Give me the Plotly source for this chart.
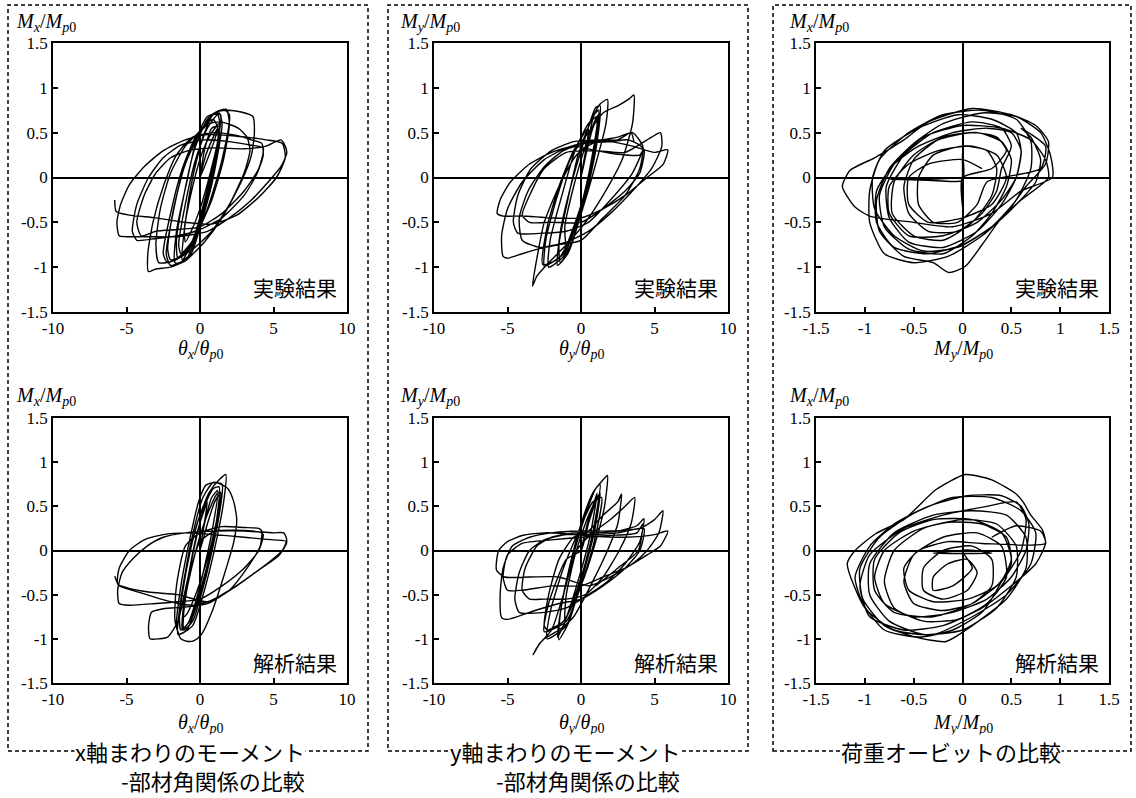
import plotly.graph_objects as go

W, H = 1136, 798

# ---------------- data ----------------
THETA_TICKS = [-10, -5, 0, 5, 10]
THETA_TICKTEXT = ["-10", "-5", "0", "5", "10"]
M_TICKS = [-1.5, -1, -0.5, 0, 0.5, 1, 1.5]
M_TICKTEXT = ["-1.5", "-1", "-0.5", "0", "0.5", "1", "1.5"]

# panel 1: experiment, theta_x - Mx
EXP_THX = [
    (0, 0), (0.3, 0.3), (0.8, 0.55), (1.3, 0.57), (0.9, 0.0), (0.1, -0.5), (-0.6, -0.85), (-1.2, -0.92),
    (-1.0, -0.5), (-0.5, 0.0), (0.2, 0.45), (0.9, 0.7), (1.4, 0.7), (1.1, 0.3), (0.4, -0.2), (-0.5, -0.7),
    (-1.3, -0.95), (-1.7, -0.95), (-1.6, -0.6), (-0.9, -0.05), (-0.2, 0.45), (0.5, 0.68), (1.3, 0.72),
    (1.5, 0.6), (0.9, 0.0), (0, -0.55), (-0.9, -0.9), (-2.0, -0.98), (-2.3, -0.85), (-1.9, -0.45),
    (-1.2, 0.05), (-0.4, 0.4), (0.3, 0.58), (0.9, 0.65), (1.2, 0.55), (0, 0),
    (0.4, 0.25), (0.9, 0.45), (1.2, 0.55), (1.25, 0.45), (0.7, 0.05), (0, -0.35), (-0.6, -0.6),
    (-1.0, -0.72), (-1.05, -0.55), (-0.5, -0.1), (0.2, 0.3), (0.8, 0.5), (1.3, 0.6),
    (1.0, 0.2), (0.3, -0.3), (-0.5, -0.7), (-1.3, -0.85), (-1.45, -0.75), (-1.0, -0.3), (-0.3, 0.2),
    (0.5, 0.55), (1.2, 0.7), (1.35, 0.6),
    (1.0, 0.15), (0.2, -0.4), (-0.7, -0.8), (-1.5, -0.9), (-1.6, -0.7), (-1.1, -0.2), (-0.4, 0.3),
    (0.5, 0.65), (1.2, 0.74), (1.8, 0.76), (2.0, 0.6),
    (1.6, 0.2), (0.8, -0.25), (-0.3, -0.65), (-1.3, -0.88), (-2.0, -0.92), (-2.2, -0.8), (-1.8, -0.35),
    (-1.0, 0.15), (0.0, 0.5), (0.8, 0.7), (1.6, 0.76), (2.0, 0.7),
    (1.5, 0.2), (0.5, -0.35), (-0.8, -0.8), (-2.2, -0.95), (-2.5, -0.85), (-2.0, -0.4), (-1.2, 0.1),
    (-0.3, 0.45), (0.6, 0.6), (1.4, 0.62), (2.6, 0.55), (3.2, 0.45), (3.4, 0.3),
    (3.0, 0.05), (2.0, -0.3), (0.8, -0.6), (-0.5, -0.8), (-1.8, -0.93), (-2.8, -0.95), (-3.0, -0.75),
    (-2.7, -0.35), (-2.0, 0.05), (-1.0, 0.35), (0.0, 0.52), (1.0, 0.72), (1.8, 0.75), (2.8, 0.73),
    (3.6, 0.68), (3.7, 0.5),
    (3.5, 0.25), (2.8, -0.05), (1.5, -0.45), (0.3, -0.72), (-1.0, -0.93), (-2.0, -1.0), (-3.0, -1.02),
    (-3.5, -1.05), (-3.55, -0.85), (-3.2, -0.5), (-2.5, -0.1), (-1.6, 0.25), (-0.5, 0.45), (1.0, 0.5),
    (2.5, 0.47), (3.5, 0.42), (4.2, 0.38), (4.3, 0.25),
    (3.9, 0.05), (3.0, -0.2), (1.5, -0.45), (0.0, -0.58), (-1.5, -0.65), (-3.0, -0.68), (-4.3, -0.7),
    (-4.6, -0.6), (-4.3, -0.3), (-3.5, 0.0), (-2.5, 0.22), (-1.3, 0.36), (0.3, 0.42), (2.0, 0.4),
    (3.5, 0.36), (4.3, 0.33),
    (4.0, 0.1), (3.0, -0.15), (1.5, -0.4), (0.0, -0.55), (-1.5, -0.58), (-3.0, -0.6), (-4.0, -0.65),
    (-4.3, -0.5), (-3.8, -0.2), (-3.0, 0.05), (-2.0, 0.22), (-0.8, 0.3), (1.0, 0.33), (3.0, 0.32),
    (4.5, 0.35), (5.5, 0.42), (5.8, 0.35), (5.9, 0.27),
    (5.5, 0.12), (4.8, -0.02), (3.5, -0.25), (2.0, -0.45), (0.5, -0.6), (-1.5, -0.66), (-3.5, -0.66),
    (-5.0, -0.66), (-5.5, -0.65), (-5.65, -0.5), (-5.4, -0.3), (-4.8, -0.08), (-3.8, 0.12), (-2.5, 0.3),
    (-1.0, 0.42), (0.5, 0.48), (2.5, 0.46), (4.5, 0.42), (5.6, 0.38), (5.8, 0.22),
    (5.2, 0.0), (4.0, -0.22), (2.5, -0.42), (0.8, -0.52), (-1.0, -0.5), (-3.0, -0.45), (-4.8, -0.42),
    (-5.7, -0.38), (-5.8, -0.25),
]

# panel 2: experiment, theta_y - My
EXP_THY = [
    (0, 0), (0.4, 0.35), (0.9, 0.7), (1.2, 0.75), (0.8, 0.2), (0.0, -0.4), (-0.9, -0.85), (-1.6, -0.98),
    (-1.4, -0.6), (-0.7, -0.1), (0.2, 0.4), (1.0, 0.78), (1.3, 0.8), (0.9, 0.25), (-0.2, -0.45),
    (-1.2, -0.88), (-2.2, -1.0), (-2.1, -0.7), (-1.3, -0.2), (-0.4, 0.3), (0.5, 0.6), (1.1, 0.68),
    (0.6, 0.1), (-0.3, -0.5), (-1.5, -0.9), (-2.6, -0.97), (-2.3, -0.55), (-1.5, -0.1), (-0.5, 0.3),
    (0.5, 0.55), (0, 0),
    (0.4, 0.3), (0.8, 0.55), (1.1, 0.65), (0.9, 0.3), (0.2, -0.2), (-0.5, -0.55), (-1.0, -0.75),
    (-1.1, -0.55), (-0.5, -0.1), (0.3, 0.35), (1.0, 0.65), (1.3, 0.72),
    (1.0, 0.3), (0.2, -0.3), (-0.7, -0.75), (-1.4, -0.95), (-1.5, -0.75), (-0.9, -0.25), (-0.2, 0.25),
    (0.6, 0.6), (1.3, 0.82), (1.8, 0.87), (1.7, 0.6),
    (1.0, 0.15), (0.0, -0.4), (-1.2, -0.85), (-2.2, -0.97), (-2.5, -0.99), (-2.4, -0.7), (-1.6, -0.2),
    (-0.6, 0.25), (0.5, 0.5), (1.5, 0.72), (2.5, 0.8), (3.3, 0.88), (3.6, 0.92), (3.5, 0.6),
    (2.8, 0.2), (1.5, -0.2), (0.3, -0.5), (-1.0, -0.75), (-2.2, -0.95), (-3.0, -1.1), (-3.3, -1.21),
    (-3.0, -0.9), (-2.5, -0.5), (-1.5, -0.1), (-0.3, 0.25), (1.0, 0.4), (2.5, 0.45), (3.5, 0.5), (4.2, 0.35),
    (4.0, 0.1), (3.0, -0.2), (1.5, -0.45), (0.0, -0.7), (-1.5, -0.75), (-2.8, -0.78), (-4.0, -0.7),
    (-4.2, -0.45), (-3.6, -0.15), (-2.5, 0.12), (-1.2, 0.3), (0.3, 0.38), (2.0, 0.4), (3.2, 0.42),
    (4.0, 0.36), (4.3, 0.3),
    (4.0, 0.05), (3.0, -0.15), (1.5, -0.35), (0.0, -0.5), (-2.0, -0.5), (-3.5, -0.5), (-4.0, -0.42),
    (-3.5, -0.2), (-2.5, 0.1), (-1.0, 0.28), (1.0, 0.3), (3.0, 0.28), (4.8, 0.45), (5.4, 0.5), (5.5, 0.35),
    (4.8, 0.1), (3.5, -0.15), (2.0, -0.4), (0.5, -0.6), (-1.0, -0.72), (-2.5, -0.78), (-4.0, -0.85),
    (-5.0, -0.9), (-5.3, -0.88), (-5.4, -0.65), (-5.0, -0.35), (-4.0, -0.05), (-2.5, 0.2), (-1.0, 0.33),
    (0.5, 0.4), (2.0, 0.4), (3.5, 0.35), (5.0, 0.28), (5.9, 0.31),
    (5.6, 0.15), (4.5, 0.0), (3.0, -0.2), (1.5, -0.35), (0.0, -0.45), (-2.0, -0.45), (-4.0, -0.43),
    (-5.3, -0.43), (-5.7, -0.4), (-5.5, -0.25), (-4.8, -0.05), (-3.5, 0.15), (-2.0, 0.28), (-0.5, 0.35),
    (1.0, 0.3), (2.5, 0.26), (4.0, 0.25), (4.2, 0.3),
    (3.5, 0.05), (2.0, -0.25), (0.5, -0.5), (-1.0, -0.6), (-2.5, -0.62), (-4.3, -0.62), (-4.6, -0.5),
    (-4.3, -0.2), (-3.4, 0.1), (-2.0, 0.3), (-0.5, 0.4), (1.0, 0.42), (2.5, 0.42), (3.4, 0.5), (3.6, 0.4),
]

# panel 3: experiment, load orbit My - Mx
EXP_ORB = [
    (0, 0), (-0.35, -0.02), (-0.73, -0.02), (-0.35, -0.03), (0, -0.03), (0, 0.27), (0, -0.32), (0, 0),
    (0.3, 0.1), (0.45, 0.3), (0.35, 0.45), (0.1, 0.5), (-0.25, 0.42), (-0.5, 0.2), (-0.6, -0.1),
    (-0.55, -0.4), (-0.35, -0.6), (-0.05, -0.6), (0.2, -0.4), (0.35, -0.15), (0.4, 0.1),
    (0.5, 0.35), (0.4, 0.55), (0.1, 0.62), (-0.3, 0.5), (-0.6, 0.25), (-0.78, -0.1), (-0.75, -0.45),
    (-0.55, -0.72), (-0.2, -0.78), (0.15, -0.6), (0.4, -0.3), (0.55, 0.0), (0.6, 0.3),
    (0.55, 0.5), (0.3, 0.65), (-0.05, 0.7), (-0.45, 0.55), (-0.8, 0.3), (-0.92, 0.0), (-0.9, -0.35),
    (-0.7, -0.65), (-0.4, -0.82), (-0.05, -0.78), (0.3, -0.55), (0.55, -0.25), (0.7, 0.1), (0.7, 0.4),
    (0.55, 0.65), (0.2, 0.75), (-0.2, 0.7), (-0.55, 0.5), (-0.85, 0.2), (-0.95, -0.15), (-0.95, -0.5),
    (-0.8, -0.85), (-0.5, -0.95), (-0.15, -0.88), (0.2, -0.65), (0.45, -0.4), (0.65, -0.1), (0.85, 0.15),
    (0.88, 0.4),
    (0.75, 0.58), (0.5, 0.7), (0.1, 0.77), (-0.35, 0.62), (-0.6, 0.42), (-0.9, 0.22), (-1.15, 0.08),
    (-1.23, -0.1), (-1.1, -0.33), (-0.95, -0.43), (-0.5, -0.5), (-0.1, -0.55), (0.3, -0.4), (0.6, -0.15),
    (0.92, 0.0),
    (0.9, 0.25), (0.8, 0.5), (0.55, 0.68), (0.2, 0.72), (-0.2, 0.6), (-0.5, 0.38), (-0.75, 0.1),
    (-0.88, -0.25), (-0.85, -0.6), (-0.6, -0.88), (-0.3, -0.95), (-0.14, -1.06), (0.03, -0.99),
    (0.2, -0.75), (0.4, -0.45), (0.6, -0.25), (0.88, 0.0),
    (0.85, 0.2), (0.7, 0.42), (0.4, 0.55), (0.0, 0.58), (-0.4, 0.45), (-0.7, 0.15), (-0.85, -0.2),
    (-0.8, -0.55), (-0.55, -0.8), (-0.2, -0.85), (0.1, -0.65), (0.3, -0.4), (0.45, -0.1), (0.5, 0.2),
    (0.4, 0.4), (0.15, 0.5), (-0.2, 0.45), (-0.5, 0.25), (-0.7, -0.05), (-0.72, -0.4), (-0.5, -0.65),
    (-0.2, -0.7), (0.1, -0.5), (0.3, -0.2), (0.35, 0.1),
    (0.25, 0.3), (0.0, 0.35), (-0.3, 0.25), (-0.45, 0.0), (-0.45, -0.3), (-0.3, -0.5), (-0.05, -0.5),
    (0.15, -0.3), (0.25, -0.05), (0.8, 0.1), (0.85, 0.35), (0.6, 0.55),
    (0.7, 0.45), (0.8, 0.2), (0.75, -0.05), (0.55, -0.3), (0.3, -0.55), (0.0, -0.75), (-0.35, -0.85),
    (-0.7, -0.78), (-0.88, -0.5), (-0.88, -0.15), (-0.7, 0.15), (-0.45, 0.35), (-0.1, 0.5), (0.25, 0.55),
    (0.5, 0.5), (0.6, 0.3), (0.55, 0.0), (0.4, -0.25), (0.15, -0.5), (-0.2, -0.65), (-0.55, -0.65),
    (-0.75, -0.4), (-0.75, -0.1), (-0.55, 0.15), (-0.25, 0.3), (0.1, 0.35), (0.35, 0.25), (0.45, 0.0),
    (0.3, -0.3), (0.0, -0.45), (-0.35, -0.5), (-0.55, -0.3), (-0.55, 0.0), (-0.35, 0.15), (0.0, 0.2),
    (0.2, 0.1),
]

# panel 4: analysis, theta_x - Mx
ANA_THX = [
    (0, 0), (0.3, 0.3), (0.8, 0.6), (1.2, 0.68), (0.8, 0.2), (0.0, -0.4), (-0.8, -0.82), (-1.2, -0.9),
    (-1.1, -0.6), (-0.5, -0.05), (0.3, 0.5), (0.9, 0.7), (1.3, 0.72), (0.9, 0.1), (0.0, -0.5),
    (-0.9, -0.9), (-1.5, -0.95), (-1.3, -0.55), (-0.6, 0.1), (0.2, 0.6), (0.9, 0.77), (1.5, 0.75),
    (1.2, 0.3), (0.4, -0.3), (-0.5, -0.8), (-1.1, -0.9), (-1.0, -0.5), (-0.2, 0.2), (0.5, 0.55), (0, 0),
    (0.5, 0.3), (1.0, 0.55), (1.3, 0.63), (1.2, 0.4), (0.5, -0.1), (-0.3, -0.5), (-0.9, -0.72),
    (-1.1, -0.75), (-0.9, -0.45), (-0.2, 0.05), (0.6, 0.45), (1.2, 0.65), (1.4, 0.66),
    (1.0, 0.2), (0.2, -0.35), (-0.7, -0.8), (-1.3, -0.9), (-1.4, -0.75), (-0.9, -0.2), (-0.2, 0.3),
    (0.6, 0.65), (1.3, 0.8), (1.76, 0.86), (1.65, 0.6),
    (1.1, 0.1), (0.3, -0.45), (-0.5, -0.85), (-1.4, -0.95), (-1.6, -0.85), (-1.3, -0.4), (-0.6, 0.2),
    (-0.1, 0.55), (0.4, 0.74), (1.1, 0.77), (1.9, 0.7), (2.3, 0.55), (2.5, 0.35),
    (2.3, 0.1), (1.6, -0.3), (0.8, -0.7), (0.1, -0.95), (-0.4, -1.02), (-0.8, -1.03), (-1.3, -1.0),
    (-1.7, -0.8), (-1.6, -0.4), (-1.0, 0.05), (0.0, 0.2), (1.5, 0.27), (3.0, 0.26), (4.0, 0.25), (4.2, 0.22),
    (4.1, 0.05), (3.2, -0.2), (2.0, -0.45), (0.5, -0.6), (-1.0, -0.64), (-2.5, -0.66), (-3.3, -0.7),
    (-3.5, -0.85), (-3.4, -1.0), (-2.8, -1.0), (-2.2, -0.98), (-1.5, -0.8), (-0.8, -0.3), (0.0, 0.1),
    (1.0, 0.22), (2.5, 0.23), (4.0, 0.21), (4.3, 0.18),
    (4.0, 0.0), (3.0, -0.2), (1.5, -0.4), (0.0, -0.55), (-1.5, -0.58), (-3.0, -0.6), (-4.8, -0.62),
    (-5.5, -0.6), (-5.6, -0.45), (-5.3, -0.25), (-4.6, -0.1), (-3.6, 0.05), (-2.5, 0.15), (-1.0, 0.2),
    (1.0, 0.22), (3.0, 0.22), (5.0, 0.2), (5.7, 0.2), (5.9, 0.12),
    (5.6, 0.0), (4.8, -0.12), (3.5, -0.28), (2.0, -0.45), (0.5, -0.58), (-1.5, -0.5), (-3.5, -0.47),
    (-5.0, -0.42), (-5.6, -0.38), (-5.5, -0.2), (-4.8, 0.0), (-3.8, 0.12), (-2.5, 0.18), (-1.0, 0.2),
    (1.0, 0.18), (3.0, 0.15), (5.0, 0.12), (5.9, 0.1),
    (5.4, -0.05), (4.0, -0.22), (2.5, -0.4), (1.0, -0.55), (-0.5, -0.62), (-2.0, -0.58), (-4.0, -0.48),
    (-5.5, -0.4), (-5.8, -0.29),
]

# panel 5: analysis, theta_y - My
ANA_THY = [
    (0, 0), (0.5, 0.35), (1.0, 0.6), (1.1, 0.65), (0.6, 0.15), (-0.3, -0.4), (-1.2, -0.85), (-1.6, -0.98),
    (-1.3, -0.6), (-0.6, -0.1), (0.3, 0.4), (1.0, 0.7), (1.3, 0.75), (0.8, 0.2), (-0.2, -0.45),
    (-1.0, -0.85), (-2.3, -1.0), (-2.1, -0.7), (-1.2, -0.2), (-0.2, 0.2), (0.8, 0.55), (1.4, 0.6),
    (0.9, 0.1), (0.0, -0.4), (-1.0, -0.8), (-2.5, -0.92), (-2.2, -0.6), (-1.0, -0.1), (0, 0),
    (0.5, 0.3), (1.0, 0.55), (1.2, 0.62), (0.9, 0.25), (0.2, -0.2), (-0.6, -0.6), (-1.1, -0.8),
    (-1.0, -0.5), (-0.4, -0.05), (0.4, 0.35), (1.1, 0.6), (1.3, 0.65),
    (0.9, 0.2), (0.1, -0.3), (-0.8, -0.8), (-1.5, -1.01), (-1.4, -0.7), (-0.8, -0.2), (0.0, 0.3),
    (0.8, 0.65), (1.5, 0.8), (1.8, 0.85), (1.6, 0.5),
    (1.0, 0.1), (0.0, -0.4), (-1.2, -0.8), (-2.3, -0.9), (-2.5, -0.85), (-2.2, -0.5), (-1.5, -0.1),
    (-0.5, 0.15), (0.5, 0.22), (1.5, 0.4), (2.5, 0.55), (2.76, 0.64), (2.5, 0.3),
    (1.8, 0.0), (0.8, -0.35), (-0.5, -0.75), (-1.5, -0.9), (-2.5, -1.0), (-3.0, -1.1), (-3.26, -1.18),
    (-2.8, -1.05), (-2.0, -0.9), (-1.2, -0.5), (-0.3, 0.0), (0.8, 0.2), (2.0, 0.35), (3.0, 0.5),
    (3.65, 0.6), (3.4, 0.3),
    (2.6, 0.0), (1.5, -0.3), (0.3, -0.5), (-1.0, -0.55), (-2.5, -0.55), (-3.5, -0.55), (-4.0, -0.45),
    (-3.8, -0.2), (-3.0, 0.05), (-2.0, 0.15), (-0.5, 0.2), (1.0, 0.2), (2.5, 0.22), (3.8, 0.28),
    (4.28, 0.36), (4.0, 0.1),
    (3.0, -0.15), (1.8, -0.35), (0.5, -0.5), (-1.0, -0.65), (-2.5, -0.7), (-4.2, -0.7), (-4.5, -0.55),
    (-4.2, -0.25), (-3.5, 0.0), (-2.5, 0.12), (-1.0, 0.18), (1.0, 0.18), (2.5, 0.2), (4.28, 0.25), (4.0, 0.0),
    (3.0, -0.2), (1.5, -0.4), (0.0, -0.55), (-1.5, -0.6), (-3.5, -0.7), (-5.0, -0.78), (-5.4, -0.76),
    (-5.5, -0.5), (-5.3, -0.2), (-4.67, 0.05), (-3.5, 0.15), (-2.0, 0.2), (0.0, 0.22), (2.0, 0.22),
    (4.0, 0.25), (5.0, 0.35), (5.57, 0.45), (5.3, 0.2),
    (4.5, 0.0), (3.5, -0.15), (2.0, -0.3), (0.5, -0.4), (-1.5, -0.3), (-3.5, -0.3), (-5.2, -0.3),
    (-5.75, -0.22), (-5.6, 0.0), (-5.0, 0.1), (-4.0, 0.17), (-2.5, 0.2), (-1.0, 0.19), (1.0, 0.16),
    (3.0, 0.15), (5.0, 0.18), (5.9, 0.22),
    (5.4, 0.05), (4.5, -0.05), (3.0, -0.2), (1.5, -0.3),
    (0.0, -0.4), (-2.0, -0.4), (-4.0, -0.45), (-5.0, -0.45), (-5.3, -0.3), (-5.0, -0.05), (-4.0, 0.08),
    (-2.0, 0.12), (0.0, 0.15), (2.0, 0.17), (3.8, 0.2), (4.2, 0.3), (3.9, 0.0), (2.5, -0.2), (1.0, -0.4),
]

# panel 6: analysis, load orbit My - Mx
ANA_ORB = [
    (0, 0), (-0.3, -0.03), (0.3, -0.03), (0, 0), (0.1, -0.2),
    (-0.1, -0.4), (-0.3, -0.45), (-0.3, -0.3), (-0.15, -0.15), (0.05, -0.1), (0.15, -0.25), (0.05, -0.45),
    (-0.2, -0.55), (-0.4, -0.45), (-0.4, -0.2), (-0.2, 0.0), (0.1, 0.05), (0.3, -0.1), (0.3, -0.4),
    (0.1, -0.6), (-0.2, -0.68), (-0.5, -0.6), (-0.6, -0.35), (-0.5, -0.05), (-0.2, 0.15), (0.15, 0.2),
    (0.4, 0.05), (0.45, -0.3), (0.25, -0.6), (-0.05, -0.78), (-0.4, -0.8), (-0.7, -0.65), (-0.8, -0.35),
    (-0.7, 0.0), (-0.4, 0.25), (0.0, 0.35), (0.35, 0.3), (0.55, 0.05), (0.55, -0.3), (0.35, -0.65),
    (0.0, -0.9), (-0.4, -0.95), (-0.75, -0.8), (-0.95, -0.5), (-0.95, -0.15), (-0.7, 0.2), (-0.3, 0.4),
    (0.1, 0.45), (0.45, 0.4), (0.65, 0.15), (0.65, -0.2), (0.45, -0.55), (0.1, -0.85), (-0.17, -1.03),
    (-0.48, -0.98), (-0.8, -0.85), (-1.02, -0.55), (-1.05, -0.2), (-0.85, 0.15), (-0.5, 0.42), (-0.1, 0.6),
    (0.3, 0.6), (0.6, 0.45), (0.75, 0.2), (0.7, -0.15), (0.45, -0.5), (0.1, -0.75), (-0.3, -0.95),
    (-0.7, -0.9), (-1.0, -0.65), (-1.18, -0.15), (-1.1, 0.0), (-0.89, 0.19), (-0.6, 0.35), (-0.27, 0.69),
    (0.03, 0.86), (0.3, 0.8), (0.55, 0.64), (0.62, 0.55), (0.7, 0.4), (0.82, 0.23), (0.85, 0.08),
    (0.75, -0.15), (0.5, -0.4), (0.2, -0.65), (-0.2, -0.85), (-0.6, -0.9), (-0.95, -0.75), (-1.05, -0.4),
    (-0.95, -0.05), (-0.6, 0.25), (-0.2, 0.4), (0.25, 0.5), (0.55, 0.55), (0.65, 0.35), (0.6, 0.0),
    (0.4, -0.35), (0.1, -0.6), (-0.3, -0.75), (-0.7, -0.7), (-0.9, -0.45), (-0.9, -0.1), (-0.65, 0.2),
    (-0.3, 0.35), (0.1, 0.35), (0.4, 0.2), (0.5, -0.1), (0.35, -0.45),
    (0.2, -0.7), (-0.1, -0.9), (-0.45, -0.98), (-0.8, -0.9), (-1.02, -0.6), (-1.1, -0.3), (-0.95, 0.05),
    (-0.7, 0.3), (-0.35, 0.5), (0.05, 0.62), (0.4, 0.62), (0.6, 0.5), (0.68, 0.3), (0.65, 0.0),
    (0.5, -0.3), (0.25, -0.55), (-0.1, -0.7), (-0.5, -0.75), (-0.8, -0.6), (-0.9, -0.3), (-0.8, 0.0),
    (-0.5, 0.22), (-0.15, 0.32), (0.2, 0.3), (0.45, 0.15), (0.5, -0.15), (0.35, -0.4), (0.05, -0.55),
    (-0.3, -0.58), (-0.55, -0.45), (-0.6, -0.2), (-0.45, 0.0), (-0.15, 0.1), (0.2, 0.08), (0.85, 0.08),
    (0.8, 0.22), (0.55, 0.28), (0.3, 0.15),
]

# ---------------- layout geometry (screen pixels) ----------------
COLS = [(53, 347), (434, 728), (816, 1109)]
ROWS = [(43, 312), (418, 683)]


def px(x):
    return x / W


def py(y):
    return 1 - y / H


fig = go.Figure()

panels = [
    (0, 0, EXP_THX, "theta"), (0, 1, EXP_THY, "theta"), (0, 2, EXP_ORB, "orbit"),
    (1, 0, ANA_THX, "theta"), (1, 1, ANA_THY, "theta"), (1, 2, ANA_ORB, "orbit"),
]

SERIF = "Liberation Serif, Times New Roman, serif"
JP = "Noto Sans CJK JP"
TICKFONT = dict(family=SERIF, size=17, color="black")

for i, (r, c, pts, kind) in enumerate(panels, start=1):
    xs = [p[0] for p in pts]
    ys = [p[1] for p in pts]
    fig.add_trace(go.Scatter(
        x=xs, y=ys, mode="lines",
        line=dict(color="black", width=1.4, shape="spline", smoothing=0.6),
        xaxis=f"x{i}", yaxis=f"y{i}", hoverinfo="skip",
    ))
    x0, x1 = COLS[c]
    y0, y1 = ROWS[r]
    if kind == "theta":
        xr, xt, xtt = [-10, 10], THETA_TICKS, THETA_TICKTEXT
    else:
        xr, xt, xtt = [-1.5, 1.5], M_TICKS, M_TICKTEXT
    common = dict(showgrid=False, zeroline=True, zerolinecolor="black", zerolinewidth=2,
                  showline=True, linecolor="black", linewidth=1.5, mirror=True,
                  ticks="inside", ticklen=5, tickwidth=1.5, tickcolor="black",
                  tickfont=TICKFONT, fixedrange=True, automargin=False)
    fig.update_layout(**{
        f"xaxis{i}": dict(domain=[px(x0), px(x1)], range=xr, tickvals=xt, ticktext=xtt,
                          anchor=f"y{i}", **common),
        f"yaxis{i}": dict(domain=[py(y1), py(y0)], range=[-1.5, 1.5], tickvals=M_TICKS,
                          ticktext=M_TICKTEXT, anchor=f"x{i}", **common),
    })

MX = "<i>M</i><sub><i>x</i></sub>/<i>M</i><sub><i>p</i>0</sub>"
MY = "<i>M</i><sub><i>y</i></sub>/<i>M</i><sub><i>p</i>0</sub>"
THX = "<i>θ</i><sub><i>x</i></sub>/<i>θ</i><sub><i>p</i>0</sub>"
THY = "<i>θ</i><sub><i>y</i></sub>/<i>θ</i><sub><i>p</i>0</sub>"

ann = []


def add_text(text, x, y, size, family, xanchor="center", yanchor="middle", bg=None):
    d = dict(text=text, x=px(x), y=py(y), xref="paper", yref="paper", showarrow=False,
             xanchor=xanchor, yanchor=yanchor, font=dict(family=family, size=size, color="black"))
    if bg:
        d["bgcolor"] = bg
        d["borderpad"] = 0
    ann.append(d)


ytitles = [[MX, MY, MX], [MX, MY, MX]]
ytitle_x = [14, 398, 787]
ytitle_y = [22, 396]
xtitles = [[THX, THY, MY], [THX, THY, MY]]
xtitle_y = [349, 723]
labels = ["実験結果", "解析結果"]
label_y = [287, 662]
for r in range(2):
    for c in range(3):
        add_text(ytitles[r][c], ytitle_x[c], ytitle_y[r], 20, SERIF, xanchor="left")
        x0, x1 = COLS[c]
        add_text(xtitles[r][c], (x0 + x1) / 2, xtitle_y[r], 20, SERIF)
        add_text(labels[r], x1 - 8, label_y[r], 21, JP, xanchor="right")

BOXES = [(8, 368), (388, 748), (773, 1131)]
shapes = []
for bx0, bx1 in BOXES:
    shapes.append(dict(type="rect", xref="paper", yref="paper",
                       x0=px(bx0), x1=px(bx1), y0=py(751), y1=py(5),
                       line=dict(color="black", width=1.5, dash="4px,3px"), layer="below"))

add_text("x軸まわりのモーメント", 190, 751, 22, JP, bg="white")
add_text("-部材角関係の比較", 213, 780, 22, JP)
add_text("y軸まわりのモーメント", 565, 751, 22, JP, bg="white")
add_text("-部材角関係の比較", 588, 780, 22, JP)
add_text("荷重オービットの比較", 951, 751, 22, JP, bg="white")

fig.update_layout(width=W, height=H, margin=dict(l=0, r=0, t=0, b=0),
                  paper_bgcolor="white", plot_bgcolor="white", showlegend=False,
                  annotations=ann, shapes=shapes)

# remove the browser's default 8px page margin so the figure sits at the window's origin
fig.write_html("out.html", config={"displayModeBar": False},
               post_script="document.body.style.margin='0';")
